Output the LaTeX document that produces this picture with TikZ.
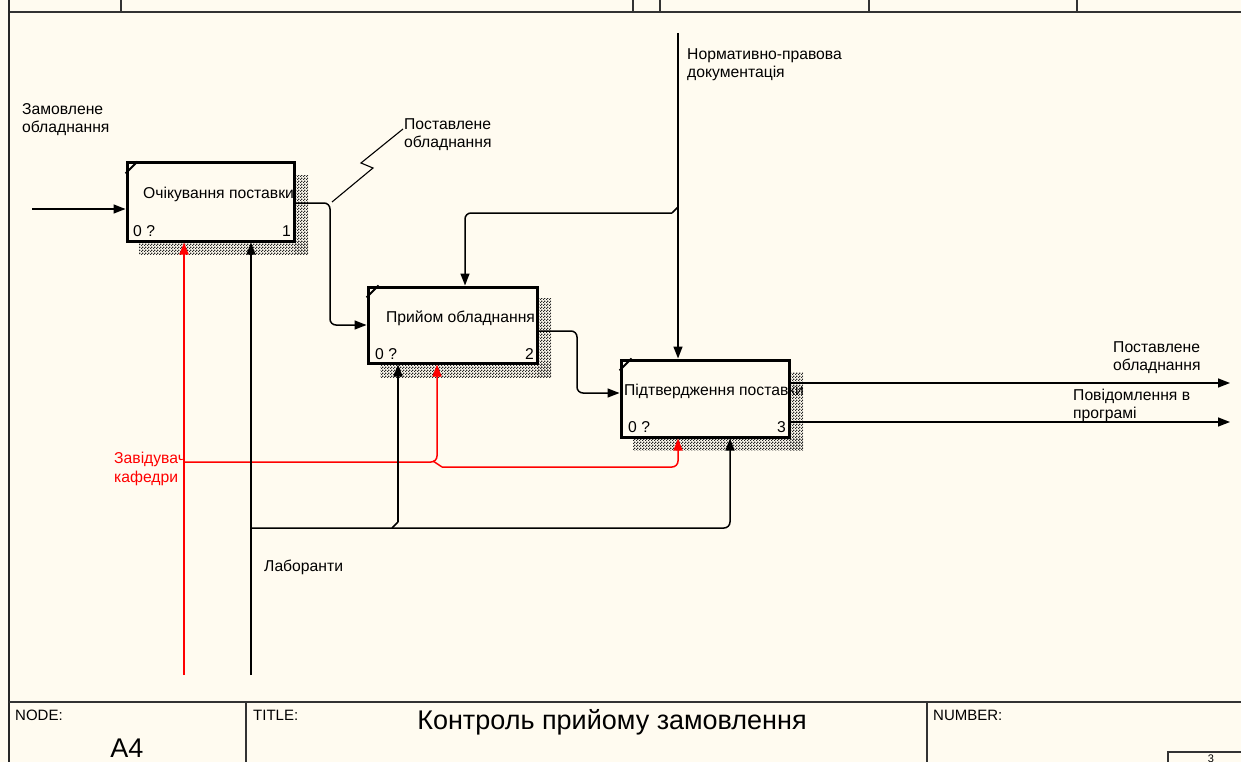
\documentclass[tikz,border=0pt]{standalone}
\usepackage{fontspec}
\setmainfont{Liberation Sans}
\usetikzlibrary{arrows.meta,patterns}
\definecolor{bg}{RGB}{255,251,240}
\definecolor{idefred}{RGB}{255,0,0}
\pgfdeclarepatternformonly{idefhatch}{\pgfpointorigin}{\pgfpoint{3pt}{3pt}}{\pgfpoint{3pt}{3pt}}{%
  \pgfpathrectangle{\pgfpointorigin}{\pgfpoint{1.5pt}{1.5pt}}%
  \pgfpathrectangle{\pgfpoint{1.5pt}{1.5pt}}{\pgfpoint{1.5pt}{1.5pt}}%
  \pgfusepath{fill}}
\begin{document}
\begin{tikzpicture}[x=1pt,y=-1pt,
  lbl/.style={inner sep=0pt,anchor=base west,font=\fontsize{15.7}{18}\selectfont},
  rlbl/.style={lbl,text=idefred},
  small/.style={inner sep=0pt,anchor=base west,font=\fontsize{15}{16}\selectfont},
  big/.style={inner sep=0pt,anchor=base,font=\fontsize{27}{30}\selectfont},
  box/.style={draw=black,line width=3pt,fill=bg,rectangle,inner sep=0pt},
  shadow/.style={pattern=idefhatch,pattern color=black!85},
  conn/.style={draw=black,line width=1.5pt,rounded corners=6pt,-{Triangle[length=12pt,width=9pt]}},
  link/.style={draw=black,line width=1.5pt,rounded corners=6pt},
  rconn/.style={conn,draw=idefred,-{Triangle[length=12pt,width=9pt,fill=idefred]},color=idefred},
  rlink/.style={link,draw=idefred},
  frame/.style={draw=black!80,line width=1.5pt}]
\useasboundingbox (0,0) rectangle (1241,762);
\clip (0,0) rectangle (1241,762);
\fill[bg] (0,0) rectangle (1241,762);

% frame
\draw[frame] (9,12) -- (1241,12);
\foreach \x in {121,633,660,869,1077} \draw[frame] (\x,0) -- (\x,12);
\draw[black!85,line width=2.5pt] (9,0) -- (9,762);
\draw[frame] (9,702) -- (1241,702);
\draw[frame] (246,702) -- (246,762);
\draw[frame] (927,702) -- (927,762);
\draw[frame] (1168,762) -- (1168,752) -- (1241,752);
\node[small] (tnode) at (15,720) {NODE:};
\node[small] (ttitle) at (253,720) {TITLE:};
\node[small] (tnum) at (933,720) {NUMBER:};
\node[big] (tA) at (127,757) {A4};
\node[big] (tT) at (612,729) {Контроль прийому замовлення};
\node[inner sep=0pt,anchor=base,font=\fontsize{11}{12}\selectfont] (tpg) at (1211,762) {3};

% shadows
\fill[shadow] (294,176) rectangle (308,254);
\fill[shadow] (139,241) rectangle (308,254);
\fill[shadow] (537,298) rectangle (551,377);
\fill[shadow] (380,363) rectangle (551,377);
\fill[shadow] (789,372) rectangle (803,450);
\fill[shadow] (633,437) rectangle (803,450);

% boxes
\node[box,minimum width=167pt,minimum height=78pt] (b1) at (210.5,202) {};
\node[box,minimum width=169pt,minimum height=76pt] (b2) at (452.5,325) {};
\node[box,minimum width=168pt,minimum height=77pt] (b3) at (705,398.5) {};
\foreach \b in {b1,b2,b3}
  \draw[line width=2pt] ([yshift=-12pt]\b.north west) -- ([xshift=12pt]\b.north west);

\node[lbl] (t1) at (143,198) {Очікування поставки};
\node[lbl] (t2) at (386,322) {Прийом обладнання};
\node[lbl] (t3) at (624,395) {Підтвердження поставки};
\node[lbl] (z1) at (133,236) {0 ?};
\node[lbl,anchor=base east] (n1) at (291,236) {1};
\node[lbl] (z2) at (375,359) {0 ?};
\node[lbl,anchor=base east] (n2) at (534,359) {2};
\node[lbl] (z3) at (628,432) {0 ?};
\node[lbl,anchor=base east] (n3) at (786,432) {3};

% labels
\node[lbl] (la1) at (22,115) {Замовлене};
\node[lbl] (la2) at (22,133) {обладнання};
\node[lbl] (lb1) at (404,130) {Поставлене};
\node[lbl] (lb2) at (404,148) {обладнання};
\node[lbl] (lc1) at (687,60) {Нормативно-правова};
\node[lbl] (lc2) at (687,78) {документація};
\node[lbl] (ld1) at (1113,352) {Поставлене};
\node[lbl] (ld2) at (1113,370) {обладнання};
\node[lbl] (le1) at (1073,400) {Повідомлення в};
\node[lbl] (le2) at (1073,418) {програмі};
\node[rlbl] (lf1) at (114,463) {Завідувач};
\node[rlbl] (lf2) at (114,482) {кафедри};
\node[lbl] (lg) at (264,571) {Лаборанти};

% input
\coordinate (in1) at (32,209);
\draw[conn] (in1) -- (in1 -| b1.west);

% box1 -> box2
\coordinate (j1) at (330,203);
\draw[conn] (b1.east |- j1) -- (j1) |- (b2.west);
\coordinate (sq0) at (332,202);
\coordinate (sq1) at (373,168);
\coordinate (sq2) at (361,163);
\coordinate (sq3) at (403,129);
\draw[line width=1.1pt] (sq0) -- (sq1) -- (sq2) -- (sq3);

% box2 -> box3
\coordinate (j2) at (577,331);
\draw[conn] (b2.east |- j2) -- (j2) |- (b3.west |- 0,393);

% outputs
\coordinate (o1) at (1230,383);
\coordinate (o2) at (1230,422);
\draw[conn] (b3.east |- o1) -- (o1);
\draw[conn] (b3.east |- o2) -- (o2);

% control
\coordinate (nd) at (678,33);
\draw[conn] (nd) -- (nd |- b3.north);
\coordinate (nj) at (678,207);
\coordinate (nk) at (672,213);
\draw[link] (nj) -- (nk);
\draw[conn] (nk) -| (465,0 |- b2.north);

% red mechanism/control
\coordinate (rs) at (184,675);
\draw[rconn] (rs) -- (rs |- b1.south);
\coordinate (rj) at (184,462);
\draw[rconn] (rj) -| (b2.south -| 437,0);
\coordinate (rk) at (433,461);
\coordinate (rl) at (442,467);
\draw[rlink,rounded corners=0pt] (rk) -- (rl);
\draw[rconn] (rl) -| (b3.south -| 678,0);

% black mechanism
\coordinate (ms) at (251,675);
\draw[conn] (ms) -- (ms |- b1.south);
\coordinate (mj) at (251,528);
\draw[conn] (mj) -| (b3.south -| 730,0);
\coordinate (mk) at (392,528);
\coordinate (ml) at (398,522);
\draw[link,rounded corners=0pt] (mk) -- (ml);
\draw[conn] (ml) -- (ml |- b2.south);
\end{tikzpicture}
\end{document}
